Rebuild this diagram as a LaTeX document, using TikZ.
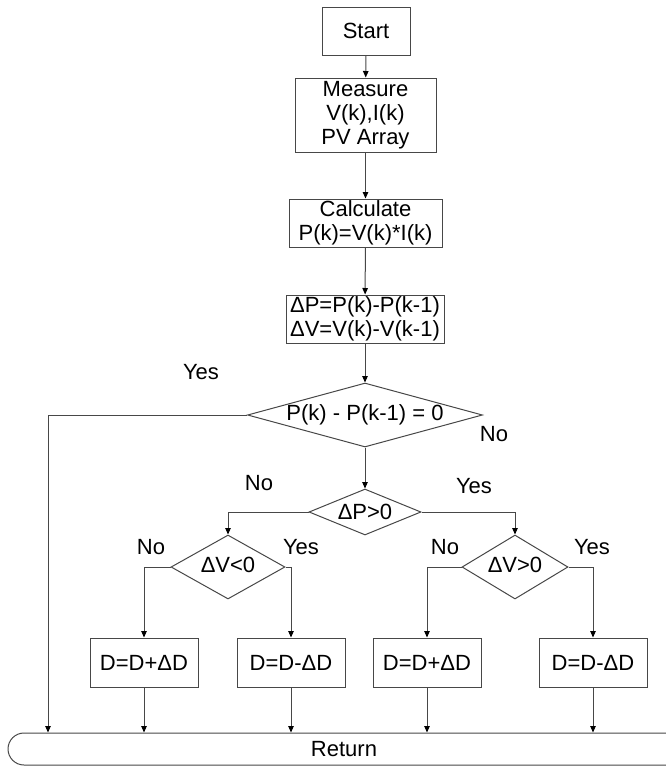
\documentclass[tikz,border=0pt]{standalone}
\usepackage{fontspec}
\setmainfont{Liberation Sans}
\usepackage{xcolor}
\usepackage{tikz}
\usetikzlibrary{shapes.geometric, shapes.misc, arrows.meta}
\definecolor{flowline}{gray}{0.28}

\tikzset{
	procbox/.style={draw=flowline, line width=1pt, rectangle, inner sep=0pt, align=center},
	decision/.style={draw=flowline, line width=1pt, diamond, inner sep=0pt},
	flowarrow/.style={draw=flowline, line width=1pt, -{Triangle[length=6.5pt, width=5.5pt, color=black]}},
}

\begin{document}
\begin{tikzpicture}[x=1pt, y=-1pt, font=\fontsize{22}{24}\selectfont]
			\useasboundingbox (0,0) rectangle (665,766);
			\def\bw{108}
			\def\bh{49}

			% Main column
			\node[procbox, minimum width=88, minimum height=48]  (start)   at (366, 31)    {Start};
			\node[procbox, minimum width=141, minimum height=74] (measure) at (365.5, 115) {Measure\\V(k),I(k)\\PV Array};
			\node[procbox, minimum width=153, minimum height=48] (calc)    at (365.5, 223) {Calculate\\P(k)=V(k)*I(k)};
			\node[procbox, minimum width=158, minimum height=48] (delta)   at (365, 319)   {ΔP=P(k)-P(k-1)\\ΔV=V(k)-V(k-1)};

			% Decisions
			\node[decision, minimum width=235, minimum height=64, aspect=3.67] (zero)  at (365, 415) {P(k) - P(k-1) = 0};
			\node[decision, minimum width=112, minimum height=46, aspect=2.43] (dppos) at (365, 512) {ΔP>0};
			\node[decision, minimum width=114, minimum height=64, aspect=1.78] (dvneg) at (228, 567) {\raisebox{4pt}{ΔV<0}};
			\node[decision, minimum width=106, minimum height=64, aspect=1.66] (dvpos) at (515, 567) {\raisebox{4pt}{ΔV>0}};

			% Duty cycle updates
			\node[procbox, minimum width=\bw, minimum height=\bh] (incA) at (144, 662.5) {D=D+ΔD};
			\node[procbox, minimum width=\bw, minimum height=\bh] (decA) at (291, 662.5) {D=D-ΔD};
			\node[procbox, minimum width=\bw, minimum height=\bh] (incB) at (427, 662.5) {D=D+ΔD};
			\node[procbox, minimum width=\bw, minimum height=\bh] (decB) at (593, 662.5) {D=D-ΔD};

			% Return terminal (runs off the right edge)
			\node[draw=flowline, line width=1pt, rounded rectangle, rounded rectangle right arc=none,
				minimum width=670, minimum height=32, inner sep=0pt] (ret) at (344, 749) {Return};

			% Branch labels
			\node (yes1) at (201, 372) {Yes};
			\node (no1)  at (494, 434) {No};
			\node (no2)  at (259, 483) {No};
			\node (yes2) at (474, 486) {Yes};
			\node (no3)  at (151, 547) {No};
			\node (yes3) at (301, 547) {Yes};
			\node (no4)  at (445, 547) {No};
			\node (yes4) at (592, 547) {Yes};

			% Connectors
			\draw[flowarrow] (start) -- (measure);
			\draw[flowarrow] (measure) -- (calc);
			\draw[flowarrow] (calc) -- (delta);
			\draw[flowarrow] (delta) -- (zero);
			\draw[flowarrow] (zero) -- (dppos);

			\coordinate (yesturn) at (48, 415);
			\draw[flowarrow] (zero.west) -- (yesturn) -- (yesturn |- ret.north);

			\draw[flowarrow] (dppos.west) -| (dvneg.north);
			\draw[flowarrow] (dppos.east) -| (dvpos.north);
			\draw[flowarrow] (dvneg.west) -| (incA.north);
			\draw[flowarrow] (dvneg.east) -| (decA.north);
			\draw[flowarrow] (dvpos.west) -| (incB.north);
			\draw[flowarrow] (dvpos.east) -| (decB.north);

			\foreach \b in {incA, decA, incB, decB}
				\draw[flowarrow] (\b.south) -- (\b.south |- ret.north);

		\end{tikzpicture}
\end{document}
